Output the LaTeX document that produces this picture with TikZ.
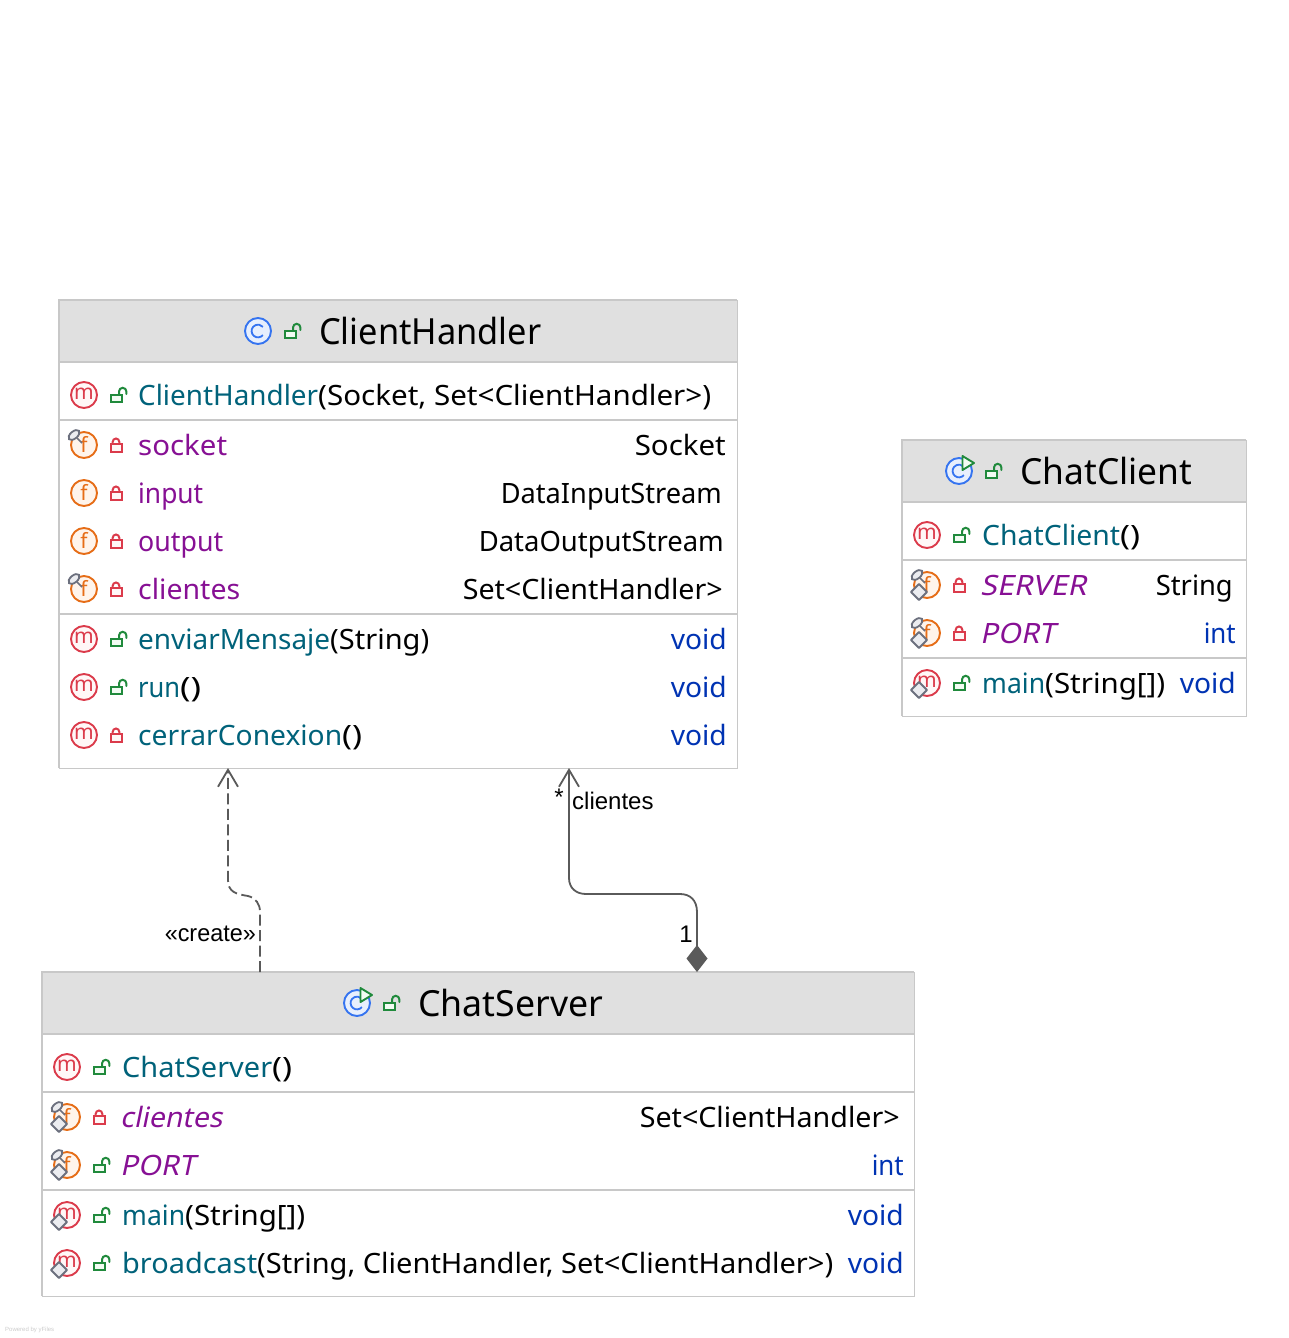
\documentclass[tikz,border=0pt]{standalone}
\usepackage{graphicx}
\usepackage{fontspec}
\setmainfont{Noto Sans}
\newfontfamily\labelfont{Liberation Sans}
\newfontfamily\slantfont[FakeSlant=0.2]{Noto Sans}
\usetikzlibrary{arrows.meta}
\definecolor{methodc}{HTML}{00627A}
\definecolor{fieldc}{HTML}{871094}
\definecolor{typec}{HTML}{0033B3}
\definecolor{boxline}{HTML}{C8C8C8}
\definecolor{headfill}{HTML}{E0E0E0}
\definecolor{edgec}{HTML}{5A5A5A}
\definecolor{redi}{HTML}{DB3B4B}
\definecolor{redf}{HTML}{FFF7F7}
\definecolor{orai}{HTML}{E66D17}
\definecolor{oraf}{HTML}{FFF4EB}
\definecolor{grni}{HTML}{208A3C}
\definecolor{grnf}{HTML}{F2FCF3}
\definecolor{blui}{HTML}{3574F0}
\definecolor{bluf}{HTML}{E7EFFD}
\definecolor{gryi}{HTML}{6C707E}
\definecolor{gryf}{HTML}{EBECF0}
\tikzset{
  classbox/.style={draw=boxline,line width=1pt,fill=white,inner sep=0pt,outer sep=0pt},
  headbox/.style={draw=none,fill=headfill,inner sep=0pt,outer sep=0pt},
  sepline/.style={draw=boxline,line width=2pt},
  edgeline/.style={draw=boxline,line width=1.8pt},
  title/.style={anchor=base west,inner sep=0pt,font=\fontsize{36}{36}\selectfont,text=black},
  lefttxt/.style={anchor=base west,inner sep=0pt,font=\fontsize{28}{30}\selectfont},
  righttxt/.style={anchor=base east,inner sep=0pt,font=\fontsize{28}{30}\selectfont},
  meth/.style={lefttxt,text=methodc},
  fld/.style={lefttxt,text=fieldc},
  ifld/.style={lefttxt,text=fieldc,font=\fontsize{28}{30}\selectfont\slantfont},
  typ/.style={righttxt,text=black},
  kw/.style={righttxt,text=typec},
  edgelabel/.style={inner sep=0pt,font=\labelfont\fontsize{24}{26}\selectfont,text=black},
  deptline/.style={draw=edgec,line width=1.8pt,dash pattern=on 11pt off 4.5pt,-{Straight Barb[length=17pt,width=20pt,line width=1.8pt]}},
  compline/.style={draw=edgec,line width=1.8pt,{Diamond[length=27pt,width=21pt,fill=edgec]}-{Straight Barb[length=17pt,width=20pt,line width=1.8pt]}},
}
% text stretched to a given width
\newcommand\fitw[2]{\resizebox{#1pt}{\height}{#2}}
% black argument text, punctuation drawn heavy
\newcommand\blk[2]{\fitw{#1}{\textcolor{black}{#2}}}
\newcommand\pb[1]{\textbf{#1}}
% member icon: x, y, ring colour, fill, letter
\newcommand\memicon[5]{%
  \draw[#3,fill=#4,line width=1.9pt] (#1,#2) circle (13);
  \node[inner sep=0pt,text=#3,font=\fontsize{21}{21}\selectfont] at (#1,#2-1) {#5};}
\newcommand\mmark[2]{\memicon{#1}{#2}{redi}{redf}{m}}
\newcommand\fmark[2]{\memicon{#1}{#2}{orai}{oraf}{f}}
\newcommand\finalmark[2]{%
  \draw[gryi,line width=1.5pt] (#1-7,#2-7) -- (#1-2,#2-2);
  \draw[gryi,fill=gryf,line width=1.8pt,rotate around={40:(#1-10,#2-10)}] (#1-10,#2-10) ellipse (6.5 and 3.6);}
\newcommand\staticmark[2]{%
  \draw[gryi,fill=gryf,line width=1.8pt,line join=round] (#1-8,#2-1) -- (#1,#2+7) -- (#1-8,#2+15) -- (#1-16,#2+7) -- cycle;}
\newcommand\openlock[2]{%
  \draw[grni,line width=2pt,line cap=round] (#1+8.5,#2) -- (#1+8.5,#2-3.5) arc[start angle=180,end angle=360,radius=3.7] -- (#1+15.9,#2-1);
  \draw[grni,fill=grnf,line width=2pt] (#1,#2) rectangle (#1+11,#2+7);}
\newcommand\closedlock[2]{%
  \draw[redi,line width=2pt] (#1+2.2,#2-1) -- (#1+2.2,#2-3.2) arc[start angle=180,end angle=360,radius=3.3] -- (#1+8.8,#2-1);
  \draw[redi,fill=redf,line width=2pt] (#1,#2-1) rectangle (#1+11,#2+6.5);}
\newcommand\classicon[2]{%
  \draw[blui,fill=bluf,line width=1.9pt] (#1,#2) circle (13);
  \draw[blui,line width=1.8pt] (#1+4.9,#2+4.1) arc[start angle=40,end angle=320,radius=6.4];}
\newcommand\runmark[2]{%
  \draw[grni,fill=grnf,line width=1.9pt,line join=round] (#1+3.5,#2-15) -- (#1+15,#2-8) -- (#1+3.5,#2-1) -- cycle;}
\newcommand\boxedges[1]{%
  \draw[edgeline] (#1.south west) -- (#1.north west) -- (#1.north east);}
\begin{document}
\begin{tikzpicture}[x=1pt,y=-1pt]
\useasboundingbox (0,0) rectangle (1288,1338);
\fill[white] (0,0) rectangle (1288,1338);

%% ClientHandler
\node[classbox,minimum width=678pt,minimum height=468pt] (handler) at (398,534) {};
\node[headbox,minimum width=678pt,minimum height=62pt] (handlerhead) at (398,331) {};
\boxedges{handler}
\draw[sepline] (handler.west |- {(0,362)}) -- (handler.east |- {(0,362)});
\draw[sepline] (handler.west |- {(0,420)}) -- (handler.east |- {(0,420)});
\draw[sepline] (handler.west |- {(0,614)}) -- (handler.east |- {(0,614)});
\classicon{258}{331}\openlock{284.5}{331}
\node[title] (ht) at (319,344) {\fitw{222}{ClientHandler}};
\mmark{84}{395}\openlock{110.5}{395}
\node[meth] (h1) at (138,405) {\fitw{180}{ClientHandler}\blk{393}{\pb{(}Socket, Set\pb{<}ClientHandler\pb{>)}}};
\fmark{84}{445}\finalmark{84}{445}\closedlock{110.5}{445}
\node[fld] (h2) at (138,455) {\fitw{89}{socket}};
\node[typ] (h2t) at (726,455) {\fitw{91}{Socket}};
\fmark{84}{493}\closedlock{110.5}{493}
\node[fld] (h3) at (138,503) {\fitw{65}{input}};
\node[typ] (h3t) at (722,503) {\fitw{221}{DataInputStream}};
\fmark{84}{541}\closedlock{110.5}{541}
\node[fld] (h4) at (138,551) {\fitw{85}{output}};
\node[typ] (h4t) at (724,551) {\fitw{245}{DataOutputStream}};
\fmark{84}{589}\finalmark{84}{589}\closedlock{110.5}{589}
\node[fld] (h5) at (138,599) {\fitw{102}{clientes}};
\node[typ] (h5t) at (723,599) {\fitw{260}{Set\pb{<}ClientHandler\pb{>}}};
\mmark{84}{639}\openlock{110.5}{639}
\node[meth] (h6) at (138,649) {\fitw{192}{enviarMensaje}\blk{99}{\pb{(}String\pb{)}}};
\node[kw] (h6t) at (727,649) {\fitw{56}{void}};
\mmark{84}{687}\openlock{110.5}{687}
\node[meth] (h7) at (138,697) {\fitw{42}{run}\blk{21}{\pb{()}}};
\node[kw] (h7t) at (727,697) {\fitw{56}{void}};
\mmark{84}{735}\closedlock{110.5}{735}
\node[meth] (h8) at (138,745) {\fitw{204}{cerrarConexion}\blk{20}{\pb{()}}};
\node[kw] (h8t) at (727,745) {\fitw{56}{void}};

%% ChatClient
\node[classbox,minimum width=344pt,minimum height=276pt] (client) at (1074,578) {};
\node[headbox,minimum width=344pt,minimum height=62pt] (clienthead) at (1074,471) {};
\boxedges{client}
\draw[sepline] (client.west |- {(0,502)}) -- (client.east |- {(0,502)});
\draw[sepline] (client.west |- {(0,560)}) -- (client.east |- {(0,560)});
\draw[sepline] (client.west |- {(0,658)}) -- (client.east |- {(0,658)});
\classicon{959}{471}\runmark{959}{471}\openlock{985.5}{471}
\node[title] (ct) at (1020,484) {\fitw{172}{ChatClient}};
\mmark{927}{535}\openlock{953.5}{535}
\node[meth] (c1) at (982,545) {\fitw{138}{ChatClient}\blk{20}{\pb{()}}};
\fmark{927}{585}\finalmark{927}{585}\staticmark{927}{585}\closedlock{953.5}{585}
\node[ifld] (c2) at (980,595) {\fitw{106}{SERVER}};
\node[typ] (c2t) at (1233,595) {\fitw{77}{String}};
\fmark{927}{633}\finalmark{927}{633}\staticmark{927}{633}\closedlock{953.5}{633}
\node[ifld] (c3) at (980,643) {\fitw{75}{PORT}};
\node[kw] (c3t) at (1236,643) {\fitw{32}{int}};
\mmark{927}{683}\staticmark{927}{683}\openlock{953.5}{683}
\node[meth] (c4) at (982,693) {\fitw{63}{main}\blk{120}{\pb{(}String\pb{[])}}};
\node[kw] (c4t) at (1236,693) {\fitw{56}{void}};

%% ChatServer
\node[classbox,minimum width=872pt,minimum height=324pt] (server) at (478,1134) {};
\node[headbox,minimum width=872pt,minimum height=62pt] (serverhead) at (478,1003) {};
\boxedges{server}
\draw[sepline] (server.west |- {(0,1034)}) -- (server.east |- {(0,1034)});
\draw[sepline] (server.west |- {(0,1092)}) -- (server.east |- {(0,1092)});
\draw[sepline] (server.west |- {(0,1190)}) -- (server.east |- {(0,1190)});
\classicon{357}{1003}\runmark{357}{1003}\openlock{383.5}{1003}
\node[title] (st) at (418,1016) {\fitw{185}{ChatServer}};
\mmark{67}{1067}\openlock{93.5}{1067}
\node[meth] (s1) at (122,1077) {\fitw{150}{ChatServer}\blk{20}{\pb{()}}};
\fmark{67}{1117}\finalmark{67}{1117}\staticmark{67}{1117}\closedlock{93.5}{1117}
\node[ifld] (s2) at (120,1127) {\fitw{102}{clientes}};
\node[typ] (s2t) at (900,1127) {\fitw{260}{Set\pb{<}ClientHandler\pb{>}}};
\fmark{67}{1165}\finalmark{67}{1165}\staticmark{67}{1165}\openlock{93.5}{1165}
\node[ifld] (s3) at (120,1175) {\fitw{75}{PORT}};
\node[kw] (s3t) at (904,1175) {\fitw{32}{int}};
\mmark{67}{1215}\staticmark{67}{1215}\openlock{93.5}{1215}
\node[meth] (s4) at (122,1225) {\fitw{63}{main}\blk{120}{\pb{(}String\pb{[])}}};
\node[kw] (s4t) at (904,1225) {\fitw{56}{void}};
\mmark{67}{1263}\staticmark{67}{1263}\openlock{93.5}{1263}
\node[meth] (s5) at (122,1273) {\fitw{135}{broadcast}\blk{576}{\pb{(}String, ClientHandler, Set\pb{<}ClientHandler\pb{>)}}};
\node[kw] (s5t) at (904,1273) {\fitw{56}{void}};

%% Connectors
\coordinate (createstart) at (server.north -| {(260,0)});
\coordinate (createend) at (handler.south -| {(228,0)});
\coordinate (compstart) at (server.north -| {(697,0)});
\coordinate (compend) at (handler.south -| {(569,0)});
\draw[deptline] (createstart) -- (260,912) .. controls (260,904) and (256,898) .. (248,896)
  .. controls (236,894) and (228,892) .. (228,880) -- (createend);
\draw[compline] (compstart) -- (697,912) .. controls (697,900) and (690,894) .. (680,894)
  -- (586,894) .. controls (576,894) and (569,888) .. (569,878) -- (compend);

\node[edgelabel,anchor=east] (lcreate) at (256,934) {\fitw{91}{«create»}};
\node[edgelabel,anchor=west] (lclient) at (572,801) {clientes};
\node[edgelabel] (lstar) at (559,797) {*};
\node[edgelabel] (lone) at (686,934) {1};
\node[anchor=west,inner sep=0pt,font=\labelfont\fontsize{6}{7}\selectfont,text=black!20] (yf) at (5,1330) {Powered by yFiles};
\end{tikzpicture}
\end{document}
